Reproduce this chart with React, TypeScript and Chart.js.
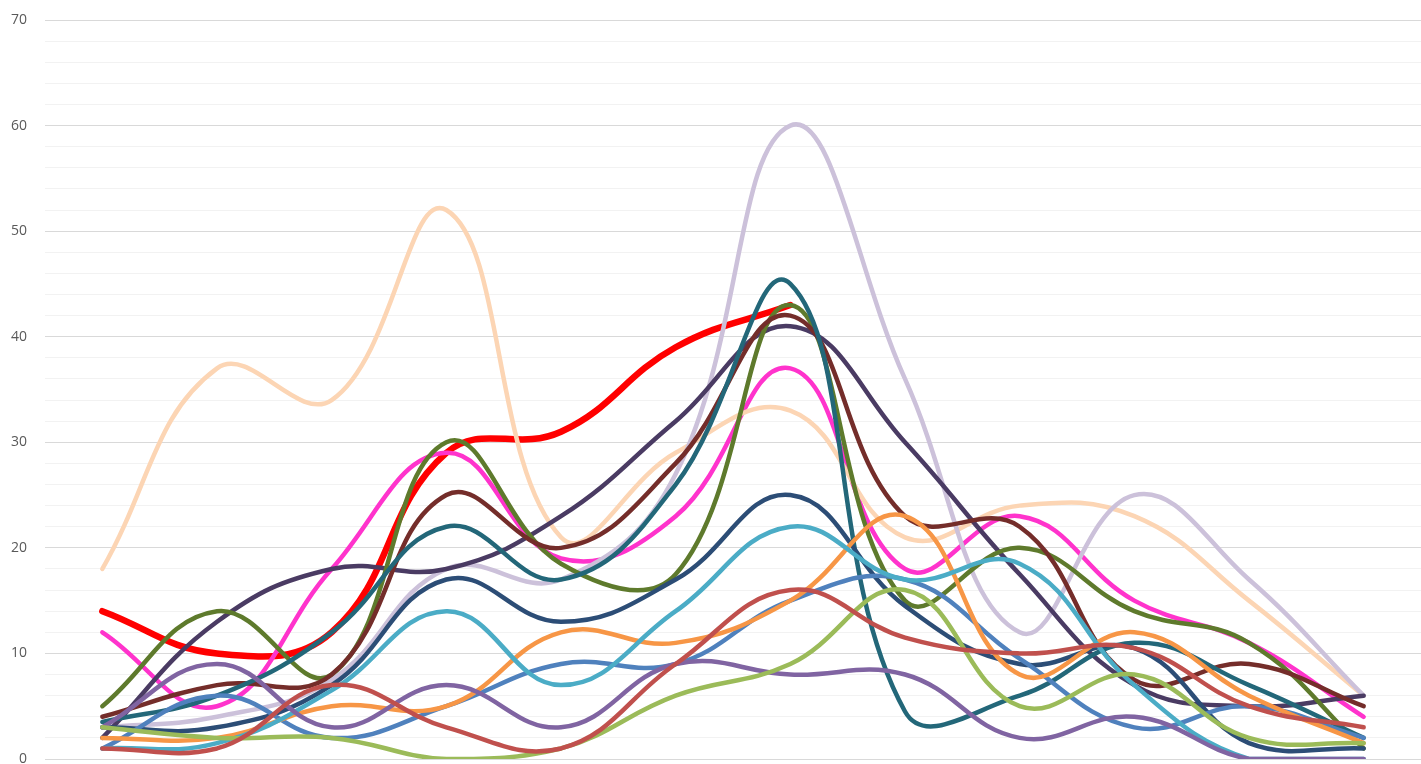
import React, { useEffect, useRef } from "react";
import { Chart, registerables } from "chart.js";

Chart.register(...registerables);

const categories = ["1", "2", "3", "4", "5", "6", "7", "8", "9", "10", "11", "12"];

const brick = [1, 1, 7, 3, 1, 9, 16, 11.5, 10, 10.5, 5, 3];
const lightGreen = [3, 2, 2, 0, 1, 6, 9, 16, 5, 8, 2, 1.5];
const midPurple = [3, 9, 3, 7, 3, 9, 8, 8, 2, 4, 0, 0];
const cyan = [1, 1.5, 6.5, 14, 7, 14, 22, 17, 18.5, 7, 0, 0];
const orange = [2, 2, 5, 5, 12, 11, 15, 23, 8, 12, 6, 1.5];
const medBlue = [1, 6, 2, 5, 9, 9, 15, 17, 9.5, 3, 5, 2];
const navy = [3, 3, 7, 17, 13, 17, 25, 14.5, 9, 10.5, 1.5, 1];
const teal = [3.5, 6, 12, 22, 17, 26, 45, 4.5, 6, 11, 7, 2];
const maroon = [4, 7, 8, 25, 20, 28, 42, 23, 22, 7.5, 9, 5];
const olive = [5, 14, 8, 30, 18.5, 17.5, 43, 15, 20, 14, 11, 1];
const darkPurple = [2, 13, 18, 18, 23, 32, 41, 30, 17.5, 7, 5, 6];
const lavender = [3, 4, 7.5, 18, 17, 27, 60, 36, 12, 25, 17, 6];
const peach = [18, 37, 34, 52, 21, 29, 33, 21, 24, 23, 15, 6];
const magenta = [12, 5, 18, 29, 19, 23, 37, 18, 23, 15, 11, 4];
const red = [14, 10, 12, 29, 31, 39, 43];

const yTickLabels = [0, 10, 20, 30, 40, 50, 60, 70];

const seriesList = [
  { data: brick, color: "#C0504D", width: 4.5 },
  { data: lightGreen, color: "#9BBB59", width: 4.5 },
  { data: midPurple, color: "#8064A2", width: 4.5 },
  { data: cyan, color: "#4BACC6", width: 4.5 },
  { data: orange, color: "#F79646", width: 4.5 },
  { data: medBlue, color: "#4F81BD", width: 4.5 },
  { data: navy, color: "#2C4D76", width: 4.5 },
  { data: teal, color: "#236779", width: 4.5 },
  { data: maroon, color: "#742D2A", width: 4.5 },
  { data: olive, color: "#5E7A2C", width: 4.5 },
  { data: darkPurple, color: "#4A3B63", width: 4.5 },
  { data: lavender, color: "#CCC1DA", width: 4.5 },
  { data: peach, color: "#FCD5B4", width: 4.5 },
  { data: magenta, color: "#FF33CC", width: 4.5 },
  { data: red, color: "#FF0000", width: 6.5 },
];

export default function App() {
  const ref = useRef<HTMLCanvasElement | null>(null);

  useEffect(() => {
    if (!ref.current) return;
    const chart = new Chart(ref.current, {
      type: "line",
      data: {
        labels: categories,
        datasets: seriesList.map((s) => ({
          data: s.data,
          borderColor: s.color,
          backgroundColor: s.color,
          borderWidth: s.width,
          pointRadius: 0,
          pointHoverRadius: 0,
          tension: 0.42,
          fill: false,
          borderCapStyle: "round" as const,
          borderJoinStyle: "round" as const,
        })),
      },
      options: {
        animation: false,
        responsive: false,
        layout: { padding: { top: 20, bottom: 5, left: 0, right: 0 } },
        plugins: {
          legend: { display: false },
          tooltip: { enabled: false },
        },
        scales: {
          x: {
            type: "category",
            display: false,
            offset: true,
          },
          y: {
            min: 0,
            max: 70,
            border: { display: false },
            grid: {
              drawTicks: false,
              color: (ctx: any) =>
                ctx.tick && yTickLabels.includes(ctx.tick.value) ? "#D9D9D9" : "#F2F2F2",
              lineWidth: 1,
            },
            ticks: {
              stepSize: 2,
              autoSkip: false,
              padding: 18,
              color: "#595959",
              font: { family: "'Open Sans', 'DejaVu Sans', sans-serif", size: 14 },
              callback: (v: any) => (yTickLabels.includes(Number(v)) ? String(v) : ""),
            },
            afterFit: (scale: any) => {
              scale.width = 45;
              scale.paddingTop = 0;
              scale.paddingBottom = 0;
            },
          },
        },
      },
    });
    return () => chart.destroy();
  }, []);

  return (
    <div style={{ position: "absolute", left: 0, top: 0, width: 1421, height: 764, background: "#fff" }}>
      <canvas ref={ref} width={1421} height={764} style={{ display: "block" }} />
    </div>
  );
}
